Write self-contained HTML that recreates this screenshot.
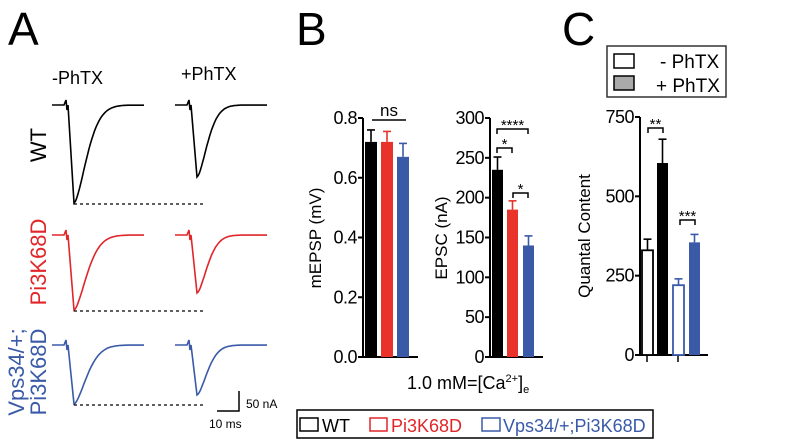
<!DOCTYPE html>
<html><head><meta charset="utf-8"><style>
html,body{margin:0;padding:0;background:#fff;}
svg{display:block;font-family:"Liberation Sans",Arial,sans-serif;}
</style></head><body>
<svg id="fig" width="798" height="439" viewBox="0 0 798 439" xmlns="http://www.w3.org/2000/svg">
<text x="8" y="45" font-size="46">A</text>
<text x="296" y="45" font-size="46">B</text>
<text x="562" y="45" font-size="46">C</text>
<text x="52" y="84" font-size="18">-PhTX</text>
<text x="181" y="80" font-size="18">+PhTX</text>
<text transform="translate(46,145) rotate(-90)" font-size="22" text-anchor="middle">WT</text>
<text transform="translate(46,262) rotate(-90)" font-size="22" text-anchor="middle" fill="#e0262a">Pi3K68D</text>
<text transform="translate(24,372) rotate(-90)" font-size="22" text-anchor="middle" fill="#3a5aa8">Vps34/+;</text>
<text transform="translate(46,372) rotate(-90)" font-size="22" text-anchor="middle" fill="#3a5aa8">Pi3K68D</text>
<g id="traces"></g>
<path d="M217 411 H239 V391" stroke="#000" stroke-width="1.5" fill="none"/>
<text x="246" y="408" font-size="12">50 nA</text>
<text x="209" y="428" font-size="12">10 ms</text>
<text transform="translate(321,238) rotate(-90)" font-size="17" text-anchor="middle">mEPSP (mV)</text>
<text transform="translate(447,238) rotate(-90)" font-size="17" text-anchor="middle">EPSC (nA)</text>
<text transform="translate(590,236) rotate(-90)" font-size="17" text-anchor="middle">Quantal Content</text>
<g id="charts"></g>
<text x="407" y="389" font-size="18">1.0 mM=[Ca<tspan font-size="11" dy="-7">2+</tspan><tspan dy="7">]</tspan><tspan font-size="11" dy="4">e</tspan></text>
<g>
<rect x="297" y="410" width="356" height="28" fill="#fff" stroke="#000" stroke-width="1.5"/>
<rect x="300" y="418" width="18" height="13" fill="none" stroke="#000" stroke-width="1.5"/>
<text x="322" y="432" font-size="18">WT</text>
<rect x="370" y="418" width="17" height="13" fill="none" stroke="#e0262a" stroke-width="1.5"/>
<text x="391" y="432" font-size="18" fill="#e0262a">Pi3K68D</text>
<rect x="482" y="418" width="18" height="13" fill="none" stroke="#3a5aa8" stroke-width="1.5"/>
<text x="503" y="432" font-size="18" fill="#3a5aa8">Vps34/+;Pi3K68D</text>
</g>
<g>
<rect x="607" y="46" width="119" height="51" fill="#fff" stroke="#333" stroke-width="1.5"/>
<rect x="614" y="54" width="20" height="14" fill="#fff" stroke="#000" stroke-width="1.5"/>
<text x="660" y="68" font-size="19">- PhTX</text>
<rect x="614" y="76" width="20" height="14" fill="#aaa" stroke="#000" stroke-width="1.5"/>
<text x="656" y="92" font-size="19">+ PhTX</text>
</g>
</svg>
<script>
const NS="http://www.w3.org/2000/svg";
const svg=document.getElementById('fig');
function mk(tag,attrs,parent){const e=document.createElementNS(NS,tag);for(const k in attrs)e.setAttribute(k,attrs[k]);(parent||svg).appendChild(e);return e;}
// Trace data
const traceColors=["#000","#e0262a","#3a5aa8"];
const traceBaselines=[105,235,345];
const tracePeakMinus=[203,310,404];
const tracePeakPlus=[177,293,395];
const tg=document.getElementById('traces');
function trace(x0,base,peak,col,name,wid){
  let d=`M${x0} ${base} H${x0+12} l2 -5 l1 10 l1 -5`;
  const tp=x0+22;
  d+=` L${tp} ${peak}`;
  for(let i=1;i<=40;i++){const t=i/40;const x=tp+t*(wid);const y=base+(peak-base)*Math.exp(-Math.pow(t*3.2,1.6));d+=` L${x.toFixed(1)} ${y.toFixed(1)}`;}
  d+=` H${x0+92}`;
  const p=mk('path',{d:d,stroke:col,'stroke-width':1.6,fill:'none'},tg);
  
  
}
const rowNames=['wt','pi3k68d','vps34'];
for(let r=0;r<3;r++){
  trace(52,traceBaselines[r],tracePeakMinus[r],traceColors[r],rowNames[r]+'-minus-trace',55);
  trace(175,traceBaselines[r],tracePeakPlus[r],traceColors[r],rowNames[r]+'-plus-trace',45);
  const dl=mk('line',{x1:74,x2:205,y1:tracePeakMinus[r]+1,y2:tracePeakMinus[r]+1,stroke:'#000','stroke-width':1.3,'stroke-dasharray':'3,3'},tg);
  
  
}
// Chart data
const mepspValues=[0.72,0.72,0.67];
const mepspErrors=[0.04,0.035,0.045];
const mepspTicks=["0.0","0.2","0.4","0.6","0.8"];
const epscValues=[235,185,140];
const epscErrors=[16,11,12];
const epscTicks=["0","50","100","150","200","250","300"];
const qcValues=[330,605,220,355];
const qcErrors=[35,75,20,25];
const qcTicks=["0","250","500","750"];
const cg=document.getElementById('charts');
function axis(x0,x1,y0,y1,max,ticks,name){
  const ys=v=>y0-(v/max)*(y0-y1);
  const a=mk('path',{d:`M${x0} ${y1} V${y0} H${x1}`,stroke:'#000','stroke-width':2,fill:'none'},cg);
  
  
  ticks.forEach(t=>{const v=parseFloat(t);const y=ys(v);
    mk('line',{x1:x0-5,x2:x0,y1:y,y2:y,stroke:'#000','stroke-width':2},cg);
    const tx=mk('text',{x:x0-6,y:y+6,'font-size':18,'text-anchor':'end','letter-spacing':'-0.5'},cg);tx.textContent=t;
    
    });
  return ys;
}
function bar(x,w,ys,v,e,fill,stroke,name){
  const top=ys(v),et=ys(v+e);
  mk('line',{x1:x+w/2,x2:x+w/2,y1:top,y2:et,stroke:stroke,'stroke-width':1.6},cg);
  mk('line',{x1:x+w/2-4,x2:x+w/2+4,y1:et,y2:et,stroke:stroke,'stroke-width':1.6},cg);
  const r=mk('rect',{x:x,y:top,width:w,height:ys(0)-top,fill:fill,stroke:stroke,'stroke-width':fill==='#fff'?1.8:0},cg);
  
  
}
const cols=["#000","#e8322a","#3a5aa8"];
let ys=axis(363,418,357,118,0.8,mepspTicks,'mepsp');
const mx=[365,381,397];
mepspValues.forEach((v,i)=>bar(mx[i],12,ys,v,mepspErrors[i],cols[i],cols[i],'mepsp-bar-'+i));
mk('line',{x1:372,x2:406,y1:120,y2:120,stroke:'#000','stroke-width':1.5},cg);
let t=mk('text',{x:389,y:116,'font-size':17,'text-anchor':'middle'},cg);t.textContent='ns';
ys=axis(490,543,357,118,300,epscTicks,'epsc');
const ex=[492,507,523];
epscValues.forEach((v,i)=>bar(ex[i],11,ys,v,epscErrors[i],cols[i],cols[i],'epsc-bar-'+i));
function sig(x1,x2,y,label){mk('path',{d:`M${x1} ${y+5} V${y} H${x2} V${y+5}`,stroke:'#000','stroke-width':1.5,fill:'none'},cg);
  const s=mk('text',{x:(x1+x2)/2,y:y+1,'font-size':15,'text-anchor':'middle'},cg);s.textContent=label;}
sig(497,528,129,'****');sig(497,512,148,'*');sig(513,528,193,'*');
ys=axis(640,708,355,117,750,qcTicks,'quantal');
mk('line',{x1:647,x2:647,y1:355,y2:362,stroke:'#000','stroke-width':1.5},cg);
mk('line',{x1:678,x2:678,y1:355,y2:362,stroke:'#000','stroke-width':1.5},cg);
const qx=[642,657,673,689];
const qf=["#fff","#000","#fff","#3a5aa8"],qs=["#000","#000","#3a5aa8","#3a5aa8"];
qcValues.forEach((v,i)=>bar(qx[i],11,ys,v,qcErrors[i],qf[i],qs[i],'quantal-bar-'+i));
sig(648,663,128,'**');sig(680,695,220,'***');
</script>
</body></html>
